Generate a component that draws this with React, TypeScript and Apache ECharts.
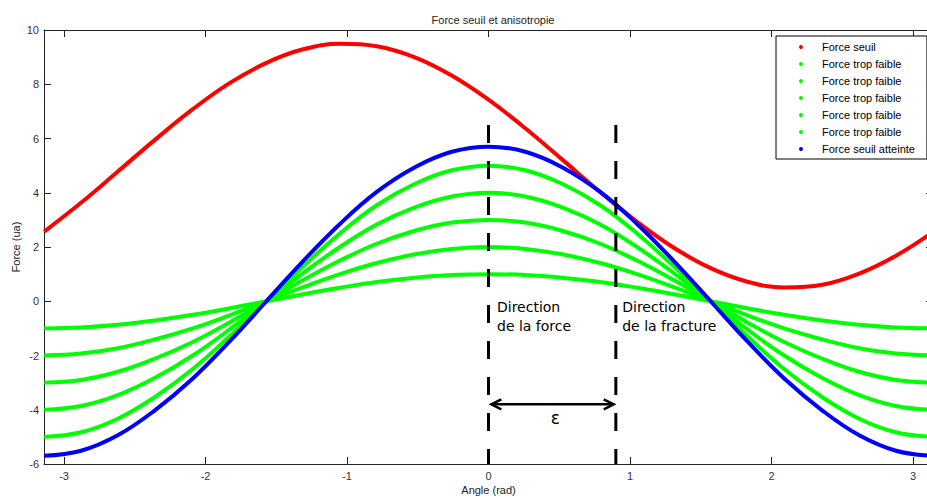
import React, { useEffect, useRef } from "react";
import * as echarts from "echarts";

// Sampled angles (rad)
const angles = [
  -3.14, -2.88, -2.62, -2.36, -2.09, -1.83, -1.57, -1.31, -1.05, -0.79, -0.52, -0.26, 0,
  0.26, 0.52, 0.79, 1.05, 1.31, 1.57, 1.83, 2.09, 2.36, 2.62, 2.88, 3.14,
];

// Force seuil (red)
const forceSeuil = [
  2.57, 3.63, 4.78, 5.94, 7.08, 8.04, 8.79, 9.29, 9.49, 9.4, 8.99, 8.32, 7.43,
  6.38, 5.23, 4.02, 2.93, 1.97, 1.22, 0.72, 0.51, 0.61, 1.02, 1.68, 2.55,
];

// Force trop faible (green)
const faible1 = [
  -1.0, -0.97, -0.87, -0.71, -0.5, -0.26, 0, 0.26, 0.5, 0.71, 0.87, 0.97, 1.0,
  0.97, 0.87, 0.71, 0.5, 0.26, 0, -0.26, -0.5, -0.71, -0.87, -0.97, -1.0,
];
const faible2 = [
  -2.0, -1.93, -1.73, -1.41, -1.0, -0.52, 0, 0.52, 1.0, 1.41, 1.73, 1.93, 2.0,
  1.93, 1.73, 1.41, 1.0, 0.52, 0, -0.52, -1.0, -1.41, -1.73, -1.93, -2.0,
];
const faible3 = [
  -3.0, -2.9, -2.6, -2.12, -1.5, -0.78, 0, 0.78, 1.5, 2.12, 2.6, 2.9, 3.0,
  2.9, 2.6, 2.12, 1.5, 0.78, 0, -0.78, -1.5, -2.12, -2.6, -2.9, -3.0,
];
const faible4 = [
  -4.0, -3.86, -3.46, -2.83, -2.0, -1.04, 0, 1.04, 2.0, 2.83, 3.46, 3.86, 4.0,
  3.86, 3.46, 2.83, 2.0, 1.04, 0, -1.04, -2.0, -2.83, -3.46, -3.86, -4.0,
];
const faible5 = [
  -5.0, -4.83, -4.33, -3.54, -2.5, -1.29, 0, 1.29, 2.5, 3.54, 4.33, 4.83, 5.0,
  4.83, 4.33, 3.54, 2.5, 1.29, 0, -1.29, -2.5, -3.54, -4.33, -4.83, -5.0,
];

// Force seuil atteinte (blue)
const seuilAtteinte = [
  -5.7, -5.51, -4.94, -4.03, -2.85, -1.48, 0, 1.48, 2.85, 4.03, 4.94, 5.51, 5.7,
  5.51, 4.94, 4.03, 2.85, 1.48, 0, -1.48, -2.85, -4.03, -4.94, -5.51, -5.7,
];

const xTicks = [-3, -2, -1, 0, 1, 2, 3];

const seriesNames = ["s0", "s1", "s2", "s3", "s4", "s5", "s6"];
const seriesLabels = [
  "Force seuil",
  "Force trop faible",
  "Force trop faible",
  "Force trop faible",
  "Force trop faible",
  "Force trop faible",
  "Force seuil atteinte",
];
const seriesValues = [forceSeuil, faible1, faible2, faible3, faible4, faible5, seuilAtteinte];
const seriesColors = ["#ff0000", "#00ff00", "#00ff00", "#00ff00", "#00ff00", "#00ff00", "#0000ff"];

// Annotations (data units)
const forceDirection = 0;
const fractureDirection = 0.9;
const dashBottom = -6;
const dashTop = 6.5;
const arrowLevel = -3.8;
const arrowStart = 0.02;
const arrowEnd = 0.885;

const FONT = "'Liberation Sans', Arial, Helvetica, sans-serif";

export default function App() {
  const ref = useRef<HTMLDivElement>(null);

  useEffect(() => {
    if (!ref.current) return;
    const chart = echarts.init(ref.current, null, { renderer: "svg" });

    const labelMap: Record<string, string> = {};
    seriesNames.forEach((n, i) => (labelMap[n] = seriesLabels[i]));

    const axisCommonX = {
      type: "value",
      min: -Math.PI,
      max: Math.PI,
      splitLine: { show: false },
      axisLine: { onZero: false, lineStyle: { color: "#222", width: 1 } },
      axisTick: { inside: true, length: 7, customValues: xTicks, lineStyle: { color: "#222" } },
    };
    const axisCommonY = {
      type: "value",
      min: -6,
      max: 10,
      interval: 2,
      splitLine: { show: false },
      axisLine: { onZero: false, lineStyle: { color: "#222", width: 1 } },
      axisTick: { inside: true, length: 7, lineStyle: { color: "#222" } },
    };

    chart.setOption({
      animation: false,
      backgroundColor: "#fff",
      title: {
        text: "Force seuil et anisotropie",
        left: 488,
        textAlign: "center",
        top: 9,
        textStyle: { fontSize: 11, fontWeight: "normal", color: "#222", fontFamily: FONT },
      },
      grid: {
        left: 44,
        top: 30,
        width: 889,
        height: 434,
        containLabel: false,
        outerBoundsMode: "none",
      },
      legend: {
        orient: "vertical",
        left: 776,
        top: 36,
        padding: [4, 12, 3, 23],
        itemWidth: 32,
        itemHeight: 4,
        itemGap: 3,
        icon: "circle",
        selectedMode: false,
        borderColor: "#000",
        borderWidth: 1,
        backgroundColor: "#fff",
        data: seriesNames,
        formatter: (name: string) => labelMap[name],
        textStyle: { fontSize: 11, lineHeight: 14, color: "#000", fontFamily: FONT },
      },
      xAxis: [
        {
          ...axisCommonX,
          position: "bottom",
          name: "Angle (rad)",
          nameLocation: "middle",
          nameGap: 20,
          nameMoveOverlap: false,
          nameTextStyle: { fontSize: 11, color: "#222", fontFamily: FONT },
          axisLabel: { customValues: xTicks, color: "#333", fontSize: 11, fontFamily: FONT, margin: 6 },
        },
        {
          ...axisCommonX,
          position: "top",
          axisLabel: { show: false },
        },
      ],
      yAxis: [
        {
          ...axisCommonY,
          position: "left",
          name: "Force (ua)",
          nameLocation: "middle",
          nameGap: 23,
          nameMoveOverlap: false,
          nameRotate: 90,
          nameTextStyle: { fontSize: 11, color: "#222", fontFamily: FONT },
          axisLabel: { color: "#333", fontSize: 11, fontFamily: FONT, margin: 5 },
        },
        {
          ...axisCommonY,
          position: "right",
          axisLabel: { show: false },
        },
      ],
      series: seriesNames.map((name, i) => ({
        name,
        type: "line",
        xAxisIndex: 0,
        yAxisIndex: 0,
        smooth: 0.4,
        showSymbol: false,
        symbol: "circle",
        color: seriesColors[i],
        lineStyle: { color: seriesColors[i], width: 4 },
        data: angles.map((a, j) => [a, seriesValues[i][j]]),
        z: 2 + i,
      })),
    });

    const p = (x: number, y: number) =>
      chart.convertToPixel({ xAxisIndex: 0, yAxisIndex: 0 }, [x, y]) as number[];

    const dashed = (xv: number) => {
      const a = p(xv, dashTop);
      const b = p(xv, dashBottom);
      return {
        type: "line",
        shape: { x1: a[0], y1: a[1], x2: b[0], y2: b[1] },
        style: { stroke: "#000", lineWidth: 3, lineDash: [18, 18] },
        z: 100,
      };
    };

    const a1 = p(arrowStart, arrowLevel);
    const a2 = p(arrowEnd, arrowLevel);
    const head = 10;
    const half = 5;
    const t1 = p(forceDirection + 0.06, 0.15);
    const t2 = p(fractureDirection + 0.045, 0.15);
    const eps = p((arrowStart + arrowEnd) / 2 + 0.02, arrowLevel - 0.5);

    const textStyle = {
      fill: "#000",
      font: "14px 'DejaVu Sans', sans-serif",
      lineHeight: 19,
      verticalAlign: "top",
      align: "left",
    };

    chart.setOption({
      graphic: [
        dashed(forceDirection),
        dashed(fractureDirection),
        {
          type: "line",
          shape: { x1: a1[0], y1: a1[1], x2: a2[0], y2: a2[1] },
          style: { stroke: "#000", lineWidth: 2.5 },
          z: 100,
        },
        {
          type: "polyline",
          shape: { points: [[a1[0] + head, a1[1] - half], [a1[0], a1[1]], [a1[0] + head, a1[1] + half]] },
          style: { stroke: "#000", lineWidth: 2.5, fill: null },
          z: 100,
        },
        {
          type: "polyline",
          shape: { points: [[a2[0] - head, a2[1] - half], [a2[0], a2[1]], [a2[0] - head, a2[1] + half]] },
          style: { stroke: "#000", lineWidth: 2.5, fill: null },
          z: 100,
        },
        {
          type: "text",
          x: t1[0],
          y: t1[1],
          style: { ...textStyle, text: "Direction\nde la force" },
          z: 100,
        },
        {
          type: "text",
          x: t2[0],
          y: t2[1],
          style: { ...textStyle, text: "Direction\nde la fracture" },
          z: 100,
        },
        {
          type: "text",
          x: eps[0],
          y: eps[1],
          style: {
            text: "ε",
            fill: "#000",
            font: "17px 'DejaVu Sans', sans-serif",
            align: "center",
            verticalAlign: "middle",
          },
          z: 100,
        },
      ],
    });

    return () => chart.dispose();
  }, []);

  return (
    <div
      ref={ref}
      style={{ position: "fixed", left: 0, top: 0, width: 927, height: 498 }}
    />
  );
}
